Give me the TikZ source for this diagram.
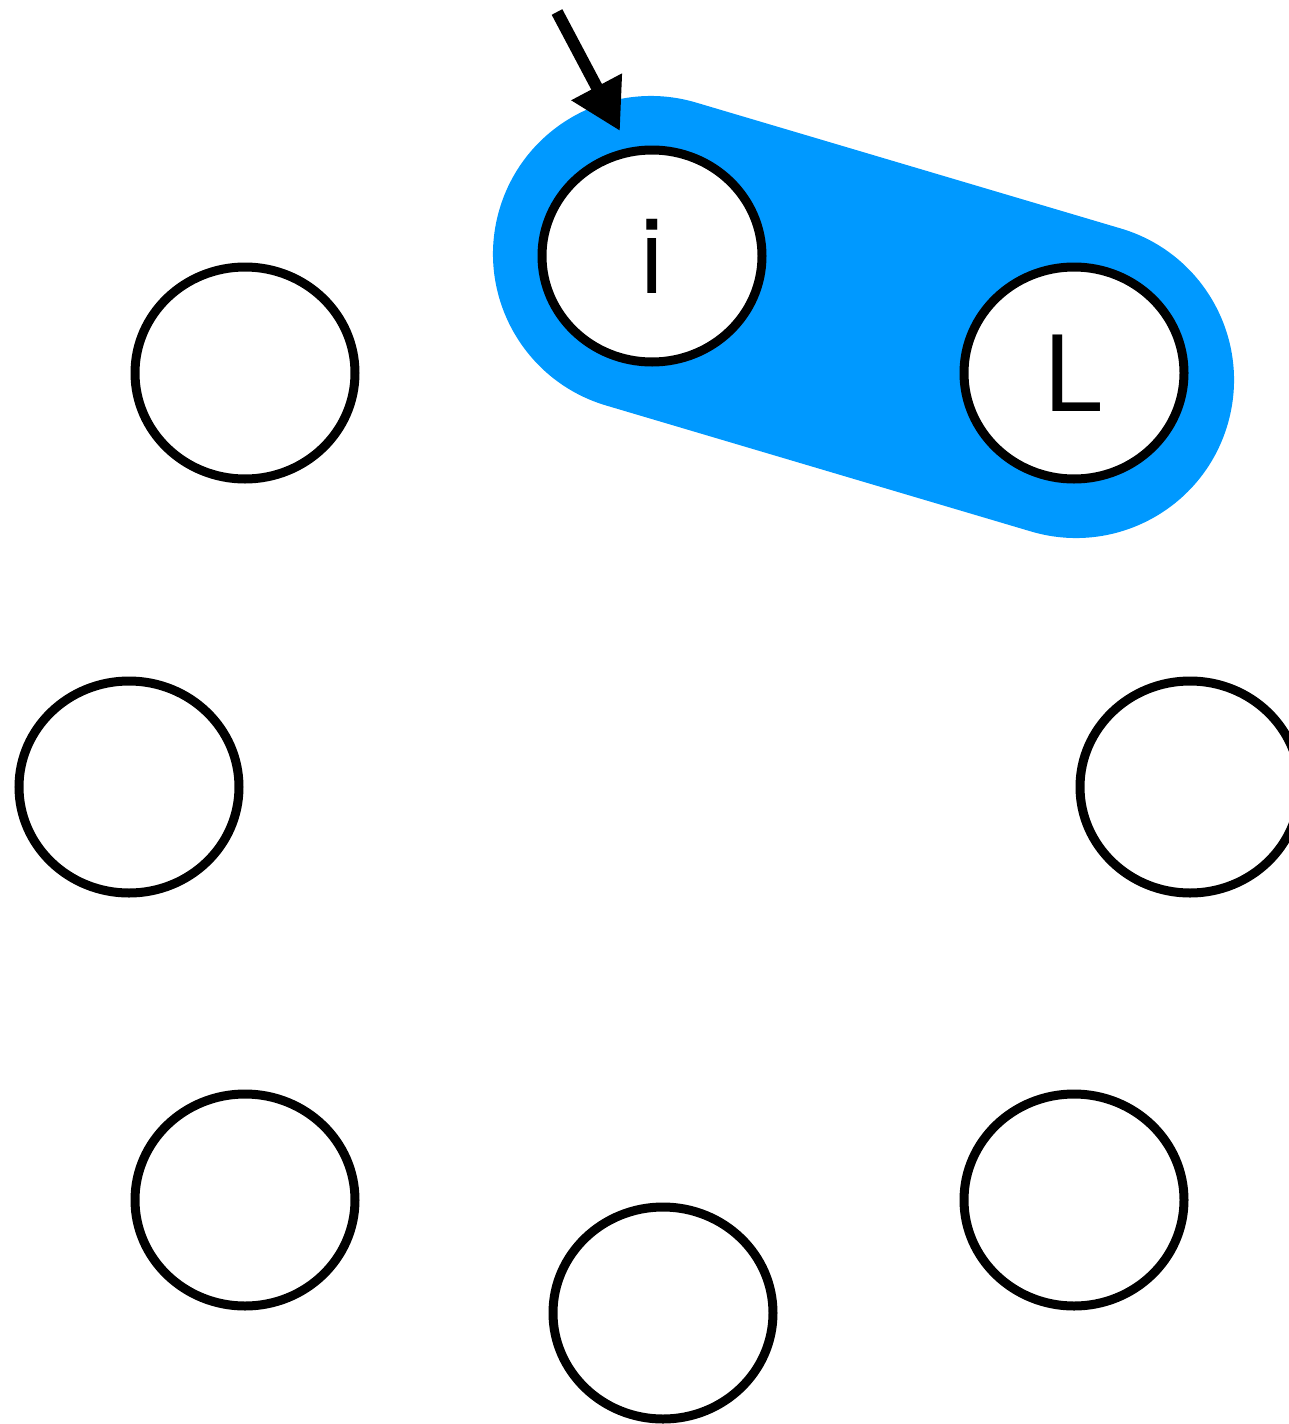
\documentclass[tikz,border=0pt]{standalone}
\usepackage{fontspec}
\setmainfont{TeX Gyre Heros}
\usetikzlibrary{shapes.geometric,arrows.meta}
\definecolor{capblue}{HTML}{0099FF}
\begin{document}
\begin{tikzpicture}[x=1pt,y=-1pt,
  ring/.style={draw=black,line width=9pt,fill=white,ellipse,inner sep=0pt,
    minimum width=220pt,minimum height=212pt,
    font=\fontsize{105}{120}\selectfont},
  capsule/.style={draw=capblue,line width=316pt,line cap=round},
  pointer/.style={draw=black,line width=12pt,-{Triangle[length=50pt,width=54pt]}}]
\useasboundingbox (0,0) rectangle (1289,1424);
\draw[capsule] (651,254) -- (1076,380);
\node[ring] (i) at (652,256) {i};
\node[ring] (L) at (1074,373) {L};
\node[ring] (n1) at (245,373) {};
\node[ring] (n2) at (129,787) {};
\node[ring] (n3) at (1190,787) {};
\node[ring] (n4) at (245,1200) {};
\node[ring] (n5) at (663,1313) {};
\node[ring] (n6) at (1074,1200) {};
\coordinate (a0) at (557,12);
\coordinate (a1) at (620,131);
\draw[pointer] (a0) -- (a1);
\end{tikzpicture}
\end{document}
